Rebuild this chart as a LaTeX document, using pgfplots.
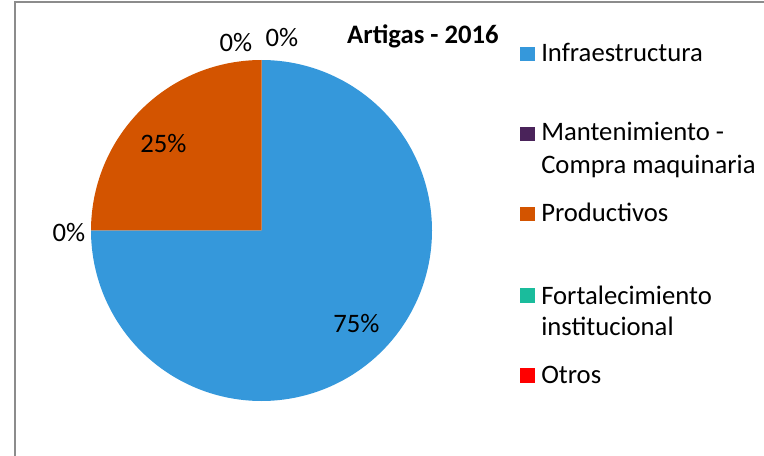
\documentclass[border=0pt]{standalone}
\usepackage{fontspec}
\setmainfont{Carlito}
\usepackage{pgfplots}
\pgfplotsset{compat=1.18}
\usepackage{pgfplotstable}

\definecolor{infra}{RGB}{53,152,219}
\definecolor{mant}{RGB}{74,35,90}
\definecolor{prod}{RGB}{211,84,0}
\definecolor{fort}{RGB}{26,188,156}
\definecolor{otros}{RGB}{255,0,0}
\definecolor{framegray}{RGB}{140,140,140}

% porcentaje de cada rubro
\pgfplotstableread{
cat share
Infraestructura 75
Mantenimiento 0
Productivos 25
Fortalecimiento 0
Otros 0
}\shares

\begin{document}
\begin{tikzpicture}[font=\fontsize{20}{24}\selectfont]
\pgfplotstablegetelem{0}{share}\of\shares \let\sA\pgfplotsretval
\pgfplotstablegetelem{1}{share}\of\shares \let\sB\pgfplotsretval
\pgfplotstablegetelem{2}{share}\of\shares \let\sC\pgfplotsretval
\pgfmathsetmacro{\aA}{3.6*\sA}
\pgfmathsetmacro{\aB}{3.6*(\sA+\sB)}
\pgfmathsetmacro{\aC}{3.6*(\sA+\sB+\sC)}
\begin{axis}[
  width=573pt, height=342pt, scale only axis,
  xmin=0, xmax=764, ymin=0, ymax=456, y dir=reverse,
  hide axis, clip=false,
]
% marco
\draw[framegray, line width=2] (15,456) -- (15,2) -- (764,2);

% sectores (centro 261.5,230.5; radio 170.5; desde las 12 en sentido horario)
\addplot[fill=infra, draw=none, domain=0:\aA, samples=181, variable=\t]
  ({261.5+170.5*sin(\t)}, {230.5-170.5*cos(\t)}) -- (261.5,230.5) -- cycle;
\addplot[fill=prod, draw=none, domain=\aB:\aC, samples=61, variable=\t]
  ({261.5+170.5*sin(\t)}, {230.5-170.5*cos(\t)}) -- (261.5,230.5) -- cycle;

% etiquetas
\node[anchor=base] at (356.5,332) {75\%};
\node[anchor=base] at (163.5,153) {25\%};
\node[anchor=base] at (69,242) {0\%};
\node[anchor=base] at (236,52) {0\%};
\node[anchor=base] at (282,47) {0\%};

% titulo
\node[anchor=base, font=\fontsize{20}{24}\selectfont\bfseries] at (423,44) {Artigas - 2016};

% leyenda
\fill[infra] (520,47) rectangle (535,61);
\node[anchor=base west, inner sep=0] at (541,62) {Infraestructura};
\fill[mant] (520,127) rectangle (535,141);
\node[anchor=base west, inner sep=0] at (541,141) {Mantenimiento -};
\node[anchor=base west, inner sep=0] at (541,174) {Compra maquinaria};
\fill[prod] (520,207) rectangle (535,221);
\node[anchor=base west, inner sep=0] at (541,222) {Productivos};
\fill[fort] (520,288) rectangle (535,303);
\node[anchor=base west, inner sep=0] at (541,304) {Fortalecimiento};
\node[anchor=base west, inner sep=0] at (541,335) {institucional};
\fill[otros] (520,368) rectangle (535,383);
\node[anchor=base west, inner sep=0] at (541,383) {Otros};
\end{axis}
\pgfresetboundingbox
\useasboundingbox (current axis.south west) rectangle (current axis.north east);
\end{tikzpicture}
\end{document}
